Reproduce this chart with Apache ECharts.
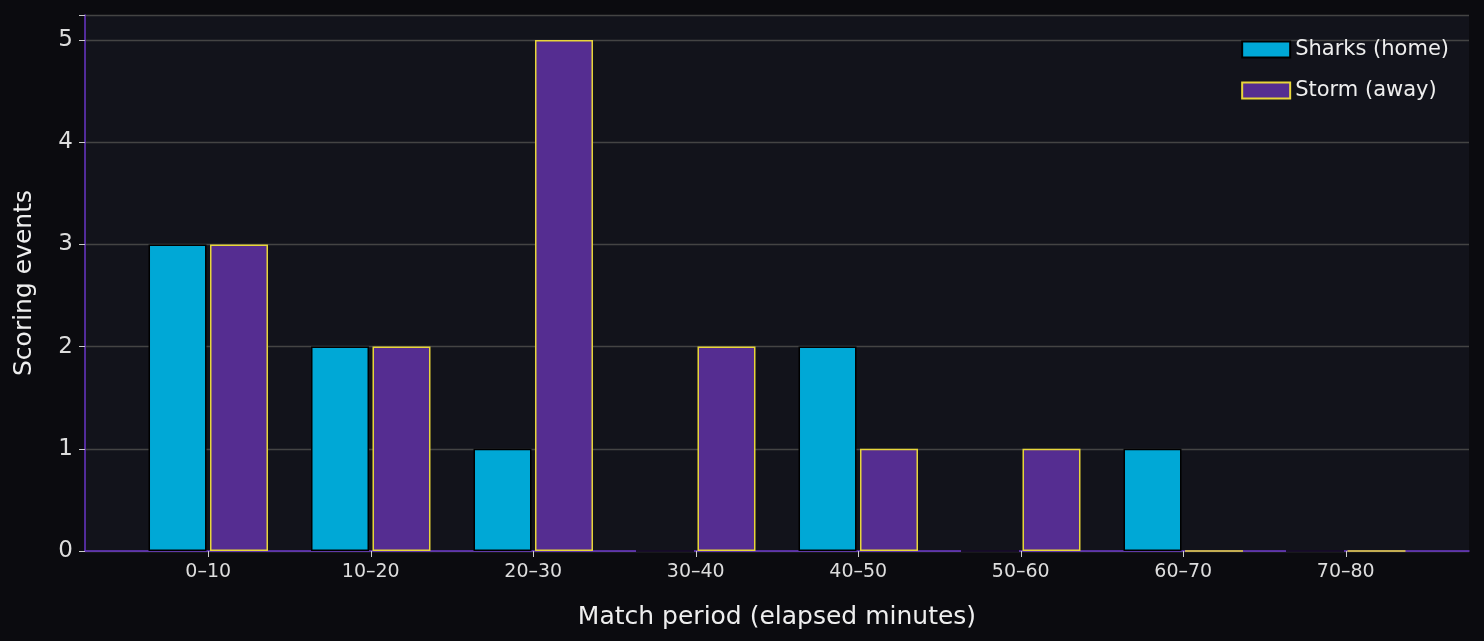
<!DOCTYPE html><html><head><meta charset="utf-8"><script src="https://cdn.jsdelivr.net/npm/echarts@6/dist/echarts.min.js"></script>
<style>html,body{margin:0;background:#0b0b0f}#c{width:1484px;height:641px}</style></head><body><div id="c"></div><script>
const categories=['0–10','10–20','20–30','30–40','40–50','50–60','60–70','70–80'];
const sharks=[3,2,1,0,2,0,1,0];
const storm=[3,2,5,2,1,1,0,0];
const yTicks=[0,1,2,3,4,5];
const font='DejaVu Sans';
const c=echarts.init(document.getElementById('c'));
c.setOption({
backgroundColor:'#0b0b0f',animation:false,
textStyle:{fontFamily:font},
grid:[{left:127,right:57,top:15,bottom:90},{left:85,right:15,top:15,bottom:90,backgroundColor:'#12131b',show:true,borderWidth:0}],
legend:{right:30,top:34,orient:'vertical',itemWidth:48,itemHeight:16,itemGap:20,icon:'rect',textStyle:{color:'#eeeeee',fontSize:21,fontFamily:font},data:['Sharks (home)','Storm (away)']},
xAxis:[{type:'category',gridIndex:0,data:categories,axisLine:{show:false},axisTick:{show:true,alignWithLabel:true,length:6,lineStyle:{color:'#cccccc'}},axisLabel:{color:'#dddddd',fontSize:19,margin:12},name:'Match period (elapsed minutes)',nameLocation:'middle',nameGap:54,nameTextStyle:{color:'#eeeeee',fontSize:25}},
{type:'value',gridIndex:1,min:0,max:1,show:true,axisLine:{show:true,lineStyle:{color:'#6a36c8',width:1.5}},axisTick:{show:false},axisLabel:{show:false},splitLine:{show:false}}],
yAxis:[{type:'value',gridIndex:0,min:0,max:5.245,show:false},
{type:'value',gridIndex:1,min:0,max:5.245,interval:1,axisLine:{show:true,lineStyle:{color:'#6a36c8',width:1.5}},axisTick:{show:true,length:6,lineStyle:{color:'#cccccc'}},
axisLabel:{color:'#dddddd',fontSize:23,margin:12,formatter:v=>yTicks.includes(v)?String(v):''},
splitLine:{show:true,lineStyle:{color:'#444444',width:1.3}},
name:'Scoring events',nameLocation:'middle',nameGap:48,nameTextStyle:{color:'#eeeeee',fontSize:25}}],
series:[
{name:'Sharks (home)',type:'bar',xAxisIndex:0,yAxisIndex:0,data:sharks,barWidth:58,barGap:'6%',itemStyle:{color:'#00a8d6',borderColor:'#000000',borderWidth:1.5},z:3},
{name:'Storm (away)',type:'bar',xAxisIndex:0,yAxisIndex:0,data:storm,barWidth:58,barGap:'6%',itemStyle:{color:'#552d91',borderColor:'#e8d63a',borderWidth:1.5},z:3}
]});
</script></body></html>
